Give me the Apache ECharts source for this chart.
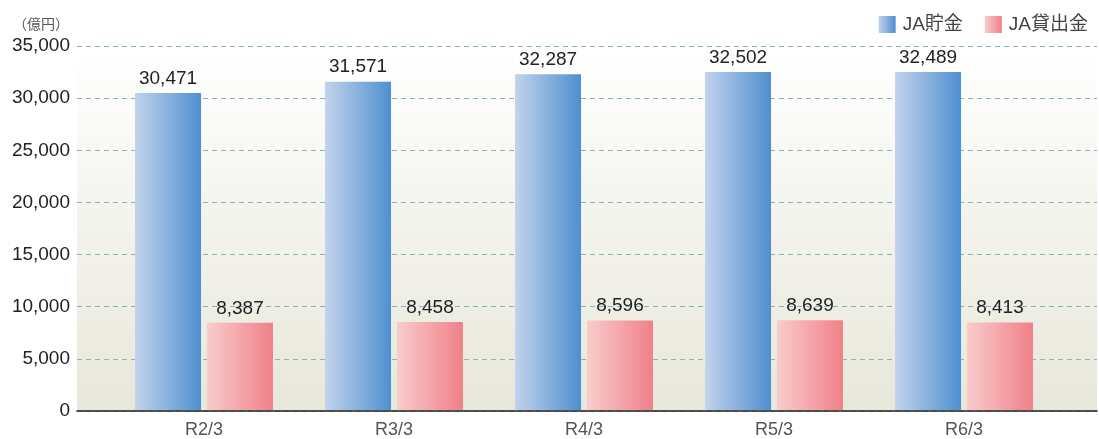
<!DOCTYPE html>
<html><head><meta charset="utf-8">
<script src="https://cdn.jsdelivr.net/npm/echarts@6/dist/echarts.min.js"></script>
<style>html,body{margin:0;padding:0;background:#fff}#c{width:1099px;height:439px}</style>
</head><body><div id="c"></div>
<script>
const categories = ['R2/3','R3/3','R4/3','R5/3','R6/3'];
const savings = [30471, 31571, 32287, 32502, 32489];
const loans = [8387, 8458, 8596, 8639, 8413];
const yTicks = [0,5000,10000,15000,20000,25000,30000,35000];

const chart = echarts.init(document.getElementById('c'));
const fontFam = '"Liberation Sans","Noto Sans CJK JP",sans-serif';
const blueGrad = new echarts.graphic.LinearGradient(0,0,1,0,[{offset:0,color:'#c2d3ec'},{offset:1,color:'#4f8fd0'}]);
const pinkGrad = new echarts.graphic.LinearGradient(0,0,1,0,[{offset:0,color:'#f9cccc'},{offset:1,color:'#f08089'}]);
const fmt = v => v.toLocaleString('en-US');
chart.setOption({
  animation:false,
  textStyle:{fontFamily:fontFam},
  graphic:[{type:'text',left:13,top:17,style:{text:'（億円）',fontSize:14,fill:'#555',fontFamily:'"Noto Sans CJK JP",sans-serif'}}],
  legend:{
    right:6, top:10, itemWidth:17, itemHeight:17, itemGap:22, icon:'rect',
    textStyle:{fontSize:19,color:'#444',fontFamily:fontFam,padding:[0,0,0,2]},
    data:[{name:'JA貯金',itemStyle:{color:blueGrad}},{name:'JA貸出金',itemStyle:{color:pinkGrad}}]
  },
  grid:[
    {left:77,right:2,top:46,bottom:28,show:true,borderWidth:0,
     backgroundColor:new echarts.graphic.LinearGradient(0,0,0,1,[{offset:0,color:'#ffffff'},{offset:1,color:'#e7e7da'}])},
    {left:109,width:950,top:46,bottom:28}
  ],
  xAxis:[
    {type:'category',gridIndex:0,data:categories,axisLabel:{show:false},axisTick:{show:false},
     axisLine:{show:true,lineStyle:{color:'#222',width:1.5}}},
    {type:'category',gridIndex:1,data:categories,axisTick:{show:false},axisLine:{show:false},
     axisLabel:{fontSize:18,color:'#555',margin:11,fontFamily:fontFam}}
  ],
  yAxis:[
    {type:'value',gridIndex:0,min:0,max:35000,interval:5000,
     axisLine:{show:false},axisTick:{show:false},
     axisLabel:{fontSize:19,color:'#222',margin:7,formatter:v=>fmt(v),fontFamily:fontFam},
     splitLine:{show:true,lineStyle:{color:'#86b3c2',type:[5,4],width:1}}},
    {type:'value',gridIndex:1,min:0,max:35000,interval:5000,show:false,splitLine:{show:false}}
  ],
  series:[
    {name:'JA貯金',type:'bar',xAxisIndex:1,yAxisIndex:1,data:savings,barWidth:66,barGap:'9%',
     itemStyle:{color:blueGrad},
     label:{show:true,position:'top',fontSize:19,color:'#222',distance:5,formatter:p=>fmt(p.value),fontFamily:fontFam}},
    {name:'JA貸出金',type:'bar',xAxisIndex:1,yAxisIndex:1,data:loans,barWidth:66,barGap:'9%',
     itemStyle:{color:pinkGrad},
     label:{show:true,position:'top',fontSize:19,color:'#222',distance:5,formatter:p=>fmt(p.value),fontFamily:fontFam}}
  ]
});
</script></body></html>
